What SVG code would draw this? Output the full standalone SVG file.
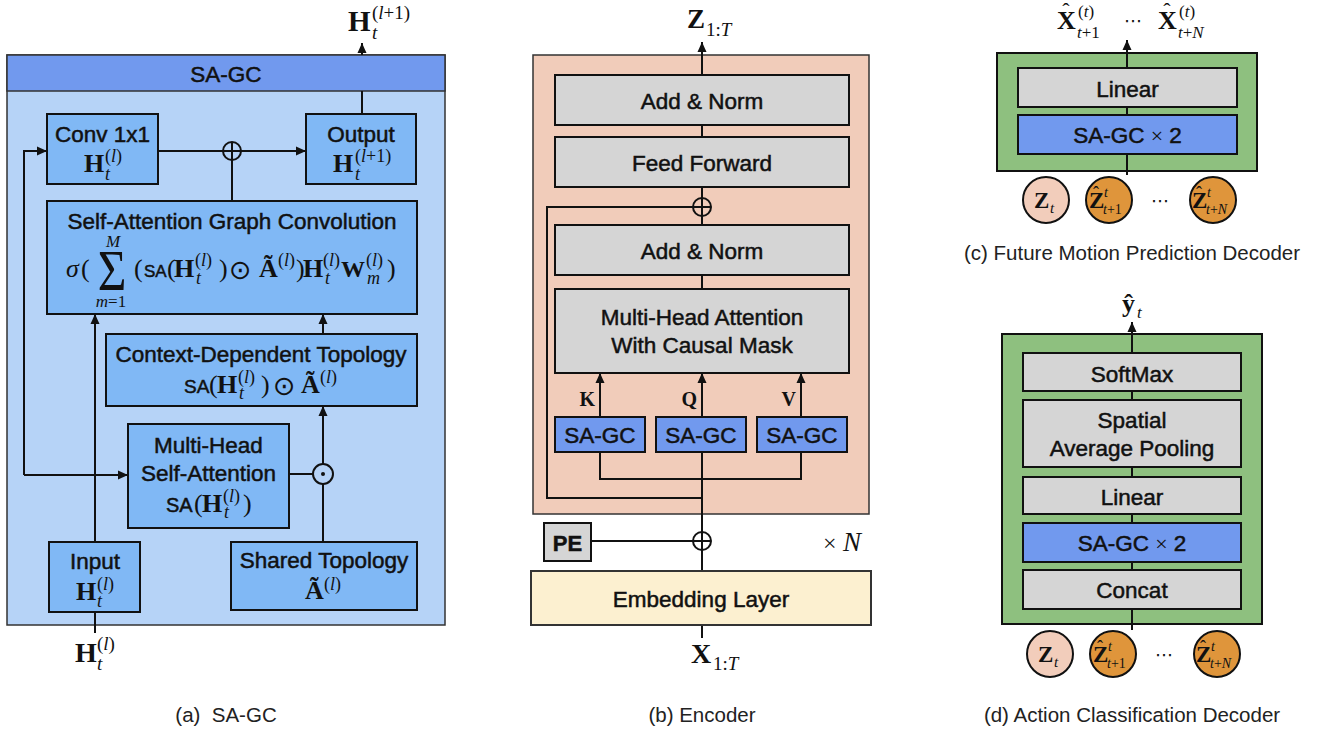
<svg xmlns="http://www.w3.org/2000/svg" width="1321" height="731" viewBox="0 0 1321 731">
  <defs>
    <marker id="ah" markerWidth="11" markerHeight="10" refX="10" refY="5" orient="auto" markerUnits="userSpaceOnUse">
      <path d="M0,0.5 L10,5 L0,9.5 z" fill="#111"/>
    </marker>
    <style>
      .ln { fill: none; stroke: #111; stroke-width: 2; }
      .arr { fill: none; stroke: #111; stroke-width: 2; marker-end: url(#ah); }
      .box { stroke: #111; stroke-width: 2; }
      .blue { fill: #80B8F5; }
      .sagc { fill: #7199EE; }
      .gray { fill: #D5D5D5; }
      .op { fill: none; stroke: #111; stroke-width: 2; }
      .t { font-family: "Liberation Sans", Arial, sans-serif; font-size: 22.5px; fill: #111; stroke: #111; stroke-width: 0.5; text-anchor: middle; }
      .cap { font-family: "Liberation Sans", Arial, sans-serif; font-size: 20.5px; fill: #222; text-anchor: middle; }
      .mb { font-family: "Liberation Serif", "Times New Roman", serif; font-weight: bold; font-size: 26px; fill: #111; }
      .mr { font-family: "Liberation Serif", "Times New Roman", serif; font-size: 26px; fill: #111; }
      .mi { font-family: "Liberation Serif", "Times New Roman", serif; font-style: italic; font-size: 18px; fill: #111; }
      .sm { font-family: "Liberation Serif", "Times New Roman", serif; font-size: 18px; fill: #111; }
      .sym { font-family: "DejaVu Sans", sans-serif; font-size: 27px; fill: #111; }
      .sa { font-family: "Liberation Sans", Arial, sans-serif; font-size: 19px; fill: #111; stroke: #111; stroke-width: 0.5; }
    </style>
  </defs>

  <!-- ============ (a) SA-GC ============ -->
  <g id="sagc-panel">
    <rect x="7" y="55" width="438" height="570" fill="#B6D3F7" stroke="#333" stroke-width="1.5"/>
    <rect x="7" y="55" width="438" height="36" fill="#7199EE" stroke="#333" stroke-width="1.5"/>
    <text class="t" x="226" y="82">SA-GC</text>
  </g>

  <g id="sagc-connectors">
    <line class="arr" x1="362" y1="55" x2="362" y2="43"/>
    <line class="ln" x1="362" y1="91" x2="362" y2="114"/>
    <line class="arr" x1="158" y1="151" x2="306" y2="151"/>
    <circle class="op" cx="232" cy="151" r="9" fill="#B6D3F7"/>
    <line class="ln" x1="223" y1="151" x2="241" y2="151"/>
    <line class="ln" x1="232" y1="142" x2="232" y2="201"/>
    <polyline class="arr" points="24,475 24,151 47,151"/>
    <line class="arr" x1="24" y1="475" x2="128" y2="475"/>
    <line class="arr" x1="95" y1="542" x2="95" y2="314"/>
    <line class="ln" x1="289" y1="474" x2="313" y2="474"/>
    <line class="ln" x1="323" y1="542" x2="323" y2="484"/>
    <line class="arr" x1="323" y1="464" x2="323" y2="406"/>
    <circle class="op" cx="323" cy="474" r="10" fill="#B6D3F7"/>
    <circle cx="323" cy="474" r="2" fill="#111"/>
    <line class="arr" x1="323" y1="334" x2="323" y2="314"/>
    <line class="ln" x1="95" y1="612" x2="95" y2="633"/>
  </g>

  <g id="sagc-out-label">
    <text class="mb" x="348" y="31" style="font-size:29px">H</text>
    <text x="372" y="19"><tspan class="sm" style="font-size:19px">(</tspan><tspan class="mi" style="font-size:19px">l</tspan><tspan class="sm" style="font-size:19px">+1)</tspan></text>
    <text class="mi" x="372" y="39" style="font-size:19px">t</text>
  </g>

  <g id="conv">
    <rect class="box blue" x="47" y="114" width="111" height="70"/>
    <text class="t" x="102.5" y="142">Conv 1x1</text>
    <text class="mb" x="84" y="172">H</text>
    <text x="105" y="162"><tspan class="sm">(</tspan><tspan class="mi">l</tspan><tspan class="sm">)</tspan></text>
    <text class="mi" x="105" y="180">t</text>
  </g>

  <g id="output">
    <rect class="box blue" x="306" y="114" width="110" height="70"/>
    <text class="t" x="361" y="142">Output</text>
    <text class="mb" x="333" y="172">H</text>
    <text x="355" y="162"><tspan class="sm">(</tspan><tspan class="mi">l</tspan><tspan class="sm">+1)</tspan></text>
    <text class="mi" x="355" y="180">t</text>
  </g>

  <g id="sa-graph-conv">
    <rect class="box blue" x="47" y="201" width="370" height="113"/>
    <text class="t" x="232" y="229">Self-Attention Graph Convolution</text>
    <text class="mi" x="66" y="277" style="font-size:26px">σ</text>
    <text class="mr" x="81" y="277">(</text>
    <text class="mr" transform="translate(112,290) scale(0.85,1)" text-anchor="middle" style="font-size:58px">Σ</text>
    <text class="mi" x="113" y="247" text-anchor="middle" style="font-size:17px">M</text>
    <text x="111" y="307" text-anchor="middle"><tspan class="mi" style="font-size:17px">m</tspan><tspan class="sm" style="font-size:17px">=1</tspan></text>
    <text class="mr" x="134" y="277">(</text>
    <text class="sa" x="144" y="277" style="font-size:17px">SA</text>
    <text class="mr" x="167" y="277">(</text>
    <text class="mb" x="174" y="277">H</text>
    <text x="195" y="266"><tspan class="sm">(</tspan><tspan class="mi">l</tspan><tspan class="sm">)</tspan></text>
    <text class="mi" x="196" y="284">t</text>
    <text class="mr" x="219" y="277">)</text>
    <text class="sym" x="229" y="279">⊙</text>
    <text class="mb" x="259" y="277">Ã</text>
    <text x="278" y="266"><tspan class="sm">(</tspan><tspan class="mi">l</tspan><tspan class="sm">)</tspan></text>
    <text class="mr" x="296" y="277">)</text>
    <text class="mb" x="303" y="277">H</text>
    <text x="323" y="266"><tspan class="sm">(</tspan><tspan class="mi">l</tspan><tspan class="sm">)</tspan></text>
    <text class="mi" x="325" y="284">t</text>
    <text class="mb" x="341" y="277" style="font-size:24px">W</text>
    <text x="366" y="266"><tspan class="sm">(</tspan><tspan class="mi">l</tspan><tspan class="sm">)</tspan></text>
    <text class="mi" x="367" y="284">m</text>
    <text class="mr" x="387" y="277">)</text>
  </g>

  <g id="context-topology">
    <rect class="box blue" x="106" y="334" width="311" height="72"/>
    <text class="t" x="261" y="362">Context-Dependent Topology</text>
    <text class="sa" x="184" y="393" style="font-size:19px">SA</text>
    <text class="mr" x="209" y="393">(</text>
    <text class="mb" x="217" y="393">H</text>
    <text x="238" y="383"><tspan class="sm">(</tspan><tspan class="mi">l</tspan><tspan class="sm">)</tspan></text>
    <text class="mi" x="239" y="399">t</text>
    <text class="mr" x="261" y="393">)</text>
    <text class="sym" x="273" y="395">⊙</text>
    <text class="mb" x="301" y="393">Ã</text>
    <text x="320" y="383"><tspan class="sm">(</tspan><tspan class="mi">l</tspan><tspan class="sm">)</tspan></text>
  </g>

  <g id="multi-head-sa">
    <rect class="box blue" x="128" y="424" width="161" height="104"/>
    <text class="t" x="208.5" y="453">Multi-Head</text>
    <text class="t" x="208.5" y="481">Self-Attention</text>
    <text class="sa" x="166" y="512" style="font-size:20px">SA</text>
    <text class="mr" x="194" y="512">(</text>
    <text class="mb" x="202" y="512">H</text>
    <text x="223" y="502"><tspan class="sm">(</tspan><tspan class="mi">l</tspan><tspan class="sm">)</tspan></text>
    <text class="mi" x="224" y="518">t</text>
    <text class="mr" x="243" y="512">)</text>
  </g>

  <g id="input">
    <rect class="box blue" x="49" y="542" width="91" height="70"/>
    <text class="t" x="95" y="569">Input</text>
    <text class="mb" x="76" y="600">H</text>
    <text x="97" y="590"><tspan class="sm">(</tspan><tspan class="mi">l</tspan><tspan class="sm">)</tspan></text>
    <text class="mi" x="97" y="607">t</text>
  </g>

  <g id="shared-topology">
    <rect class="box blue" x="231" y="542" width="186" height="68"/>
    <text class="t" x="324" y="568">Shared Topology</text>
    <text class="mb" x="305" y="599">Ã</text>
    <text x="324" y="590"><tspan class="sm">(</tspan><tspan class="mi">l</tspan><tspan class="sm">)</tspan></text>
  </g>

  <g id="sagc-in-label">
    <text class="mb" x="75" y="662" style="font-size:28px">H</text>
    <text x="97" y="650"><tspan class="sm" style="font-size:19px">(</tspan><tspan class="mi" style="font-size:19px">l</tspan><tspan class="sm" style="font-size:19px">)</tspan></text>
    <text class="mi" x="97" y="670" style="font-size:19px">t</text>
  </g>
  <text class="cap" x="226" y="722" xml:space="preserve">(a)  SA-GC</text>

  <!-- ============ (b) Encoder ============ -->
  <g id="encoder-panel">
    <rect x="533" y="55" width="336" height="459" fill="#F1CCBA" stroke="#333" stroke-width="1.5"/>
  </g>

  <g id="encoder-connectors">
    <line class="arr" x1="702" y1="75" x2="702" y2="42"/>
    <line class="ln" x1="702" y1="125" x2="702" y2="137"/>
    <line class="ln" x1="702" y1="187" x2="702" y2="225"/>
    <circle class="op" cx="702" cy="207" r="9" fill="#F1CCBA"/>
    <line class="ln" x1="693" y1="207" x2="711" y2="207"/>
    <line class="ln" x1="702" y1="198" x2="702" y2="216"/>
    <polyline class="ln" points="693,207 547,207 547,498 702,498"/>
    <line class="ln" x1="702" y1="275" x2="702" y2="289"/>
    <line class="arr" x1="600" y1="417" x2="600" y2="373"/>
    <line class="arr" x1="702" y1="417" x2="702" y2="373"/>
    <line class="arr" x1="801" y1="417" x2="801" y2="373"/>
    <polyline class="ln" points="600,452 600,479 801,479 801,452"/>
    <line class="ln" x1="702" y1="452" x2="702" y2="571"/>
    <line class="ln" x1="591" y1="541" x2="693" y2="541"/>
    <circle class="op" cx="702" cy="541" r="9" fill="#FFFFFF"/>
    <line class="ln" x1="693" y1="541" x2="711" y2="541"/>
    <line class="ln" x1="702" y1="532" x2="702" y2="550"/>
    <line class="ln" x1="702" y1="625" x2="702" y2="638"/>
  </g>

  <g id="enc-out-label">
    <text class="mb" x="687" y="28" style="font-size:27px">Z</text>
    <text x="706" y="36"><tspan class="sm" style="font-size:19px">1:</tspan><tspan class="mi" style="font-size:19px">T</tspan></text>
  </g>

  <g id="add-norm-2">
    <rect class="box gray" x="555" y="75" width="294" height="50"/>
    <text class="t" x="702" y="109">Add &amp; Norm</text>
  </g>
  <g id="feed-forward">
    <rect class="box gray" x="555" y="137" width="294" height="50"/>
    <text class="t" x="702" y="171">Feed Forward</text>
  </g>
  <g id="add-norm-1">
    <rect class="box gray" x="555" y="225" width="294" height="50"/>
    <text class="t" x="702" y="259">Add &amp; Norm</text>
  </g>
  <g id="mh-attention">
    <rect class="box gray" x="555" y="289" width="294" height="84"/>
    <text class="t" x="702" y="325">Multi-Head Attention</text>
    <text class="t" x="702" y="353">With Causal Mask</text>
  </g>

  <g id="kqv-labels">
    <text class="mb" x="595" y="406" text-anchor="end" style="font-size:20px">K</text>
    <text class="mb" x="697" y="406" text-anchor="end" style="font-size:20px">Q</text>
    <text class="mb" x="796" y="406" text-anchor="end" style="font-size:20px">V</text>
  </g>

  <g id="sagc-k">
    <rect class="box sagc" x="555" y="417" width="90" height="35"/>
    <text class="t" x="600" y="443">SA-GC</text>
  </g>
  <g id="sagc-q">
    <rect class="box sagc" x="656" y="417" width="90" height="35"/>
    <text class="t" x="701" y="443">SA-GC</text>
  </g>
  <g id="sagc-v">
    <rect class="box sagc" x="757" y="417" width="90" height="35"/>
    <text class="t" x="802" y="443">SA-GC</text>
  </g>

  <g id="pe">
    <rect class="box gray" x="544" y="523" width="47" height="38"/>
    <text class="t" x="567.5" y="551" style="font-size:22px;font-weight:bold">PE</text>
  </g>

  <g id="times-n">
    <text class="mr" x="823" y="551" style="font-size:24px">×</text>
    <text class="mi" x="843" y="551" style="font-size:27px">N</text>
  </g>

  <g id="embedding">
    <rect x="531" y="571" width="340" height="54" fill="#FCF0D0" stroke="#333" stroke-width="2"/>
    <text class="t" x="701" y="607">Embedding Layer</text>
  </g>

  <g id="enc-in-label">
    <text class="mb" x="691" y="663" style="font-size:28px">X</text>
    <text x="713" y="670"><tspan class="sm" style="font-size:19px">1:</tspan><tspan class="mi" style="font-size:19px">T</tspan></text>
  </g>
  <text class="cap" x="702" y="722">(b) Encoder</text>

  <!-- ============ (c) Future Motion Prediction Decoder ============ -->
  <g id="fmp-decoder">
    <rect x="997" y="53" width="260" height="118" fill="#8EC07F" stroke="#111" stroke-width="2"/>
    <line class="arr" x1="1127" y1="175" x2="1127" y2="40"/>
    <rect class="box gray" x="1018" y="68" width="219" height="39"/>
    <text class="t" x="1127.5" y="97">Linear</text>
    <rect class="box sagc" x="1018" y="115" width="219" height="39"/>
    <text class="t" x="1127.5" y="143">SA-GC <tspan class="sm" stroke="none" style="font-size:22px">×</tspan> 2</text>
  </g>

  <g id="fmp-out-labels">
    <text class="mb" x="1057" y="29">X</text>
    <text class="mr" x="1066" y="18" text-anchor="middle" style="font-size:22px">ˆ</text>
    <text x="1078" y="17"><tspan class="sm" style="font-size:17px">(</tspan><tspan class="mi" style="font-size:17px">t</tspan><tspan class="sm" style="font-size:17px">)</tspan></text>
    <text x="1077" y="38"><tspan class="mi" style="font-size:17px">t</tspan><tspan class="sm" style="font-size:17px">+1</tspan></text>
    <text class="sym" x="1133" y="27" text-anchor="middle" style="font-size:18px">⋯</text>
    <text class="mb" x="1158" y="29">X</text>
    <text class="mr" x="1167" y="18" text-anchor="middle" style="font-size:22px">ˆ</text>
    <text x="1179" y="17"><tspan class="sm" style="font-size:17px">(</tspan><tspan class="mi" style="font-size:17px">t</tspan><tspan class="sm" style="font-size:17px">)</tspan></text>
    <text x="1178" y="38"><tspan class="mi" style="font-size:17px">t</tspan><tspan class="sm" style="font-size:17px">+</tspan><tspan class="mi" style="font-size:17px">N</tspan></text>
  </g>

  <g id="fmp-z">
    <circle cx="1046" cy="200" r="23" fill="#F2CDBB" stroke="#111" stroke-width="2"/>
    <text class="mb" x="1034" y="208" style="font-size:23px">Z</text>
    <text class="mi" x="1050" y="213" style="font-size:15px">t</text>
  </g>
  <g id="fmp-z1">
    <circle cx="1109" cy="200" r="23" fill="#DF953B" stroke="#111" stroke-width="2"/>
    <text class="mb" x="1089" y="208" style="font-size:23px">Z</text>
    <text class="mr" x="1096" y="199" text-anchor="middle" style="font-size:18px">ˆ</text>
    <text class="mi" x="1104" y="197" style="font-size:14px">t</text>
    <text x="1103" y="214"><tspan class="mi" style="font-size:14px">t</tspan><tspan class="sm" style="font-size:14px">+1</tspan></text>
  </g>
  <text class="sym" x="1160" y="207" text-anchor="middle" style="font-size:18px">⋯</text>
  <g id="fmp-zn">
    <circle cx="1213" cy="200" r="23" fill="#DF953B" stroke="#111" stroke-width="2"/>
    <text class="mb" x="1192" y="208" style="font-size:23px">Z</text>
    <text class="mr" x="1199" y="199" text-anchor="middle" style="font-size:18px">ˆ</text>
    <text class="mi" x="1207" y="197" style="font-size:14px">t</text>
    <text x="1206" y="214"><tspan class="mi" style="font-size:14px">t</tspan><tspan class="sm" style="font-size:14px">+</tspan><tspan class="mi" style="font-size:14px">N</tspan></text>
  </g>
  <text class="cap" x="1132" y="260">(c) Future Motion Prediction Decoder</text>

  <!-- ============ (d) Action Classification Decoder ============ -->
  <g id="ac-decoder">
    <rect x="1002" y="334" width="260" height="290" fill="#8EC07F" stroke="#111" stroke-width="2"/>
    <line class="arr" x1="1132" y1="630" x2="1132" y2="322"/>
    <rect class="box gray" x="1023" y="353" width="218" height="38"/>
    <text class="t" x="1132" y="382">SoftMax</text>
    <rect class="box gray" x="1023" y="400" width="218" height="67"/>
    <text class="t" x="1132" y="428">Spatial</text>
    <text class="t" x="1132" y="456">Average Pooling</text>
    <rect class="box gray" x="1023" y="477" width="218" height="37"/>
    <text class="t" x="1132" y="505">Linear</text>
    <rect class="box sagc" x="1023" y="523" width="218" height="39"/>
    <text class="t" x="1132" y="551">SA-GC <tspan class="sm" stroke="none" style="font-size:22px">×</tspan> 2</text>
    <rect class="box gray" x="1023" y="570" width="218" height="39"/>
    <text class="t" x="1132" y="598">Concat</text>
  </g>

  <g id="ac-out-label">
    <text class="mb" x="1122" y="312">ŷ</text>
    <text class="mi" x="1137" y="318" style="font-size:17px">t</text>
  </g>

  <g id="ac-z">
    <circle cx="1050" cy="654" r="23" fill="#F2CDBB" stroke="#111" stroke-width="2"/>
    <text class="mb" x="1038" y="662" style="font-size:23px">Z</text>
    <text class="mi" x="1054" y="667" style="font-size:15px">t</text>
  </g>
  <g id="ac-z1">
    <circle cx="1113" cy="654" r="23" fill="#DF953B" stroke="#111" stroke-width="2"/>
    <text class="mb" x="1093" y="662" style="font-size:23px">Z</text>
    <text class="mr" x="1100" y="653" text-anchor="middle" style="font-size:18px">ˆ</text>
    <text class="mi" x="1108" y="651" style="font-size:14px">t</text>
    <text x="1107" y="668"><tspan class="mi" style="font-size:14px">t</tspan><tspan class="sm" style="font-size:14px">+1</tspan></text>
  </g>
  <text class="sym" x="1164" y="661" text-anchor="middle" style="font-size:18px">⋯</text>
  <g id="ac-zn">
    <circle cx="1217" cy="654" r="23" fill="#DF953B" stroke="#111" stroke-width="2"/>
    <text class="mb" x="1196" y="662" style="font-size:23px">Z</text>
    <text class="mr" x="1203" y="653" text-anchor="middle" style="font-size:18px">ˆ</text>
    <text class="mi" x="1211" y="651" style="font-size:14px">t</text>
    <text x="1210" y="668"><tspan class="mi" style="font-size:14px">t</tspan><tspan class="sm" style="font-size:14px">+</tspan><tspan class="mi" style="font-size:14px">N</tspan></text>
  </g>
  <text class="cap" x="1132" y="722">(d) Action Classification Decoder</text>
</svg>
